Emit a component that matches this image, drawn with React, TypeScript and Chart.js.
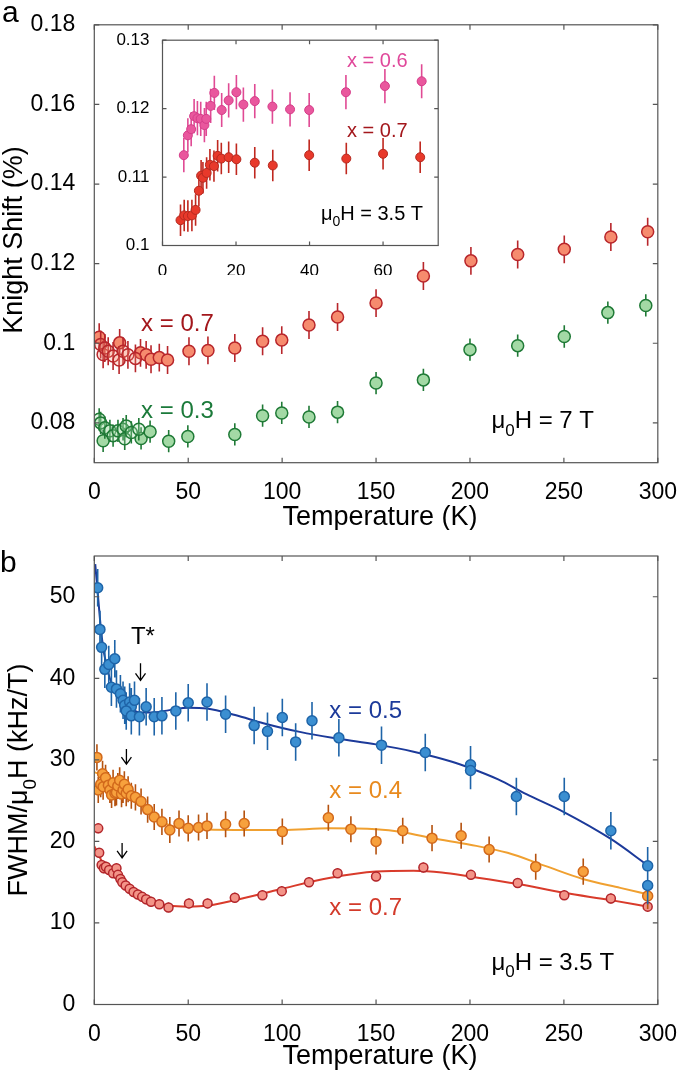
import React, { useEffect, useRef } from 'react';
import { Chart, registerables } from 'chart.js';
Chart.register(...registerables);

const FONT = '"Liberation Sans", Arial, Helvetica, sans-serif';

// ---------- Panel a: Knight shift, 7 T ----------
const tempA07 = [2.6, 13.5, 24.6, 27.6, 30.2, 34.6, 39, 50.4, 60.5, 74.8, 89.6, 99.8, 114.3, 129.5, 150, 175.2, 200.5, 225.4, 250.2, 275, 294.6];
const ksA07 = [0.1015, 0.1001, 0.0976, 0.0971, 0.096, 0.0964, 0.0958, 0.098, 0.0982, 0.0988, 0.1005, 0.1008, 0.1046, 0.1066, 0.1101, 0.1169, 0.1207, 0.1223, 0.1236, 0.1267, 0.128];
const tempA07open = [3.4, 4.7, 5.6, 7.4, 10, 13.2, 15.3, 17.9, 21.9];
const ksA07open = [0.0997, 0.0972, 0.0988, 0.098, 0.0968, 0.0958, 0.098, 0.0971, 0.0962];
const tempA03 = [4.7, 24.9, 29.7, 39.6, 49.8, 74.8, 89.6, 99.8, 114.3, 129.5, 150, 175.2, 200, 225.4, 250.2, 273.4, 293.6];
const ksA03 = [0.0755, 0.0761, 0.0778, 0.0754, 0.0766, 0.0771, 0.0818, 0.0825, 0.0815, 0.0827, 0.09, 0.0908, 0.0984, 0.0994, 0.1017, 0.1077, 0.1095];
const tempA03open = [2.6, 3.4, 5.6, 8.3, 10, 12.6, 15.3, 16.2, 17, 19.7, 23.7];
const ksA03open = [0.0809, 0.08, 0.0788, 0.078, 0.0768, 0.078, 0.0784, 0.076, 0.0792, 0.0776, 0.0784];
const errA07 = 0.0035;
const errA03 = 0.0028;
const xTicks = [0, 50, 100, 150, 200, 250, 300];
const yTicksA = [0.08, 0.1, 0.12, 0.14, 0.16, 0.18];

// ---------- Inset: Knight shift, 3.5 T ----------
const tempIn06 = [5.8, 6.9, 7.8, 8.6, 9.5, 10.4, 11.4, 11.9, 13.1, 14.1, 16.1, 18, 20.1, 22, 25.1, 29.9, 34.7, 39.9, 49.9, 60.5, 70.5];
const ksIn06 = [0.1132, 0.1161, 0.117, 0.1189, 0.1186, 0.1185, 0.1176, 0.1185, 0.1204, 0.1223, 0.1198, 0.1212, 0.1224, 0.1206, 0.1211, 0.1203, 0.1199, 0.1198, 0.1224, 0.1233, 0.124];
const tempIn07 = [4.9, 5.9, 6.9, 8.0, 9.0, 9.9, 10.5, 11.0, 12.0, 12.9, 14.0, 15.0, 16.0, 18.0, 20.1, 25.1, 30, 39.9, 50, 60, 70.1];
const ksIn07 = [0.1037, 0.1044, 0.1043, 0.1044, 0.1052, 0.108, 0.1102, 0.1099, 0.1106, 0.1118, 0.1116, 0.1131, 0.1127, 0.1129, 0.1126, 0.1121, 0.1117, 0.1132, 0.1127, 0.1134, 0.1129];
const errIn06 = 0.0025;
const errIn07 = 0.0023;
const xTicksIn = [0, 20, 40, 60];
const yTicksIn = [0.1, 0.11, 0.12, 0.13];

// ---------- Panel b: FWHM ----------
const tempB05 = [1.8, 3.0, 3.9, 5.6, 7.7, 10.9, 9.1, 11.8, 13.9, 15.3, 16.2, 18.8, 19.7, 21.4, 17, 19.7, 24, 27.6, 31.9, 36, 43.4, 50, 60, 69.9, 85.1, 92.2, 100.1, 107.2, 115.9, 130.2, 152.9, 176.2, 200.3, 200.3, 224.7, 250.2, 275, 294.6, 294.6];
const fwB05 = [51.1, 46.0, 43.8, 41.1, 41.7, 42.4, 38.9, 38.7, 38.1, 37.3, 36.7, 37.1, 36.5, 37.3, 36.0, 35.4, 35.3, 36.5, 35.3, 35.4, 36.0, 37.0, 37.1, 35.6, 34.2, 33.5, 35.2, 32.2, 34.8, 32.7, 31.8, 30.9, 29.4, 28.7, 25.5, 25.5, 21.3, 17.0, 14.6];
const fitTB05 = [0.5, 2, 4, 7, 10, 15, 20, 25, 30, 40, 50, 60, 75, 90, 110, 130, 150, 170, 190, 200, 215, 230, 250, 275, 295];
const fitB05 = [54, 50, 45, 41, 39, 37.2, 36.2, 35.8, 35.8, 36.1, 36.4, 36.3, 35.5, 34.5, 33.4, 32.6, 31.9, 31.0, 29.8, 29.0, 27.6, 25.8, 23.6, 20.3, 17.0];

const tempB04 = [1.4, 2.1, 3.4, 4.4, 4.7, 6, 7.5, 8.3, 9.2, 10, 11, 11.8, 12.5, 13.5, 14.5, 15.3, 16, 17, 18, 19.7, 21.9, 24.9, 28.4, 31.9, 36, 40.2, 45.1, 50, 55.5, 60, 69.9, 79.8, 100.1, 124.6, 136.6, 150, 164.2, 179.8, 195.3, 210.2, 235, 260.3, 294.6];
const fwB04 = [30.3, 26.3, 27.0, 28.3, 26.7, 27.8, 26.9, 26.3, 25.7, 27.2, 25.9, 26.0, 26.8, 27.5, 25.8, 26.3, 27.0, 25.9, 26.4, 25.6, 25.4, 24.9, 23.9, 23.0, 22.4, 21.4, 22.2, 21.6, 21.7, 21.9, 22.1, 22.2, 21.2, 22.9, 21.5, 20.0, 21.3, 20.4, 20.7, 19.0, 16.9, 16.3, 13.3];
const fitTB04 = [0, 10, 20, 30, 40, 50, 75, 100, 125, 150, 165, 180, 200, 220, 240, 260, 280, 295];
const fitB04 = [28.5, 27.5, 25.5, 23.3, 22.0, 21.6, 21.4, 21.4, 21.6, 21.5, 21.1, 20.4, 19.6, 18.6, 17.0, 15.4, 14.3, 13.5];

const tempB07 = [2.1, 2.6, 3.9, 5.1, 6.2, 7.9, 10, 11.8, 12.6, 13.9, 14.9, 16.7, 18.8, 20.9, 23.2, 25.5, 27.6, 30.2, 34.6, 39.5, 50.4, 60.3, 74.8, 89.5, 99.8, 114.3, 129.5, 150, 175.2, 200.5, 225.4, 250.2, 275, 294.6];
const fwB07 = [21.6, 18.6, 17.1, 16.7, 16.9, 16.5, 16.1, 16.7, 15.9, 15.4, 15.0, 14.6, 14.2, 13.8, 13.5, 13.2, 12.9, 12.6, 12.3, 11.9, 12.4, 12.4, 13.1, 13.4, 13.9, 15.0, 16.1, 15.7, 16.8, 15.9, 14.9, 13.4, 13.0, 12.0];
const fitTB07 = [0, 5, 10, 20, 30, 40, 50, 60, 75, 100, 125, 150, 170, 185, 200, 225, 250, 275, 295];
const fitB07 = [19.4, 17.2, 16.0, 14.0, 12.7, 12.1, 12.0, 12.1, 12.8, 14.2, 15.5, 16.3, 16.4, 16.2, 15.7, 14.8, 13.7, 12.8, 12.0];
const errB05 = 2.3;
const errB04 = 1.6;
const errB07 = 0.6;
const yTicksB = [0, 10, 20, 30, 40, 50];

// ---------- helpers ----------
type Part = [string, boolean];
function rich(s: string): Part[] {
  const out: Part[] = [];
  let buf = '';
  for (let i = 0; i < s.length; i++) {
    if (s[i] === '_' && i + 1 < s.length) {
      if (buf) out.push([buf, false]);
      buf = '';
      out.push([s[i + 1], true]);
      i++;
    } else buf += s[i];
  }
  if (buf) out.push([buf, false]);
  return out;
}

function drawRich(ctx: CanvasRenderingContext2D, parts: Part[], x: number, y: number, size: number, color: string, align: string) {
  const subSize = Math.round(size * 0.72);
  let total = 0;
  const widths = parts.map(([t, sub]) => {
    ctx.font = `${sub ? subSize : size}px ${FONT}`;
    const w = ctx.measureText(t).width;
    total += w;
    return w;
  });
  let sx = align === 'center' ? x - total / 2 : align === 'right' ? x - total : x;
  ctx.fillStyle = color;
  ctx.textBaseline = 'middle';
  ctx.textAlign = 'left';
  parts.forEach(([t, sub], i) => {
    ctx.font = `${sub ? subSize : size}px ${FONT}`;
    ctx.fillText(t, sx, sub ? y + size * 0.4 : y);
    sx += widths[i];
  });
}

const framePlugin = {
  id: 'frame',
  afterDatasetsDraw(chart: any, _args: any, opts: any) {
    const { ctx, chartArea: a, scales } = chart;
    const L = opts.len ?? 5;
    ctx.save();
    ctx.strokeStyle = opts.color || '#555';
    ctx.lineWidth = 1.2;
    ctx.strokeRect(a.left, a.top, a.right - a.left, a.bottom - a.top);
    ctx.beginPath();
    scales.x.ticks.forEach((t: any) => {
      const px = scales.x.getPixelForValue(t.value);
      ctx.moveTo(px, a.bottom); ctx.lineTo(px, a.bottom - L);
      ctx.moveTo(px, a.top); ctx.lineTo(px, a.top + L);
    });
    scales.y.ticks.forEach((t: any) => {
      const py = scales.y.getPixelForValue(t.value);
      ctx.moveTo(a.left, py); ctx.lineTo(a.left + L, py);
      ctx.moveTo(a.right, py); ctx.lineTo(a.right - L, py);
    });
    ctx.stroke();
    ctx.restore();
  },
};

const errorBarPlugin = {
  id: 'errbars',
  beforeDatasetDraw(chart: any, args: any) {
    const ds = chart.data.datasets[args.index];
    if (!ds.yErr) return;
    const { ctx, scales } = chart;
    ctx.save();
    ctx.strokeStyle = ds.errColor;
    ctx.lineWidth = ds.errWidth || 1.5;
    ctx.beginPath();
    ds.data.forEach((p: any) => {
      const px = scales.x.getPixelForValue(p.x);
      ctx.moveTo(px, scales.y.getPixelForValue(p.y - ds.yErr));
      ctx.lineTo(px, scales.y.getPixelForValue(p.y + ds.yErr));
    });
    ctx.stroke();
    ctx.restore();
  },
};

const textPlugin = {
  id: 'texts',
  afterDraw(chart: any, _args: any, opts: any) {
    const { ctx, scales } = chart;
    (opts.items || []).forEach((it: any) => {
      let x = it.x, y = it.y;
      if (it.data) { x = scales.x.getPixelForValue(it.x); y = scales.y.getPixelForValue(it.y); }
      ctx.save();
      if (it.arrow) {
        const h = it.len / 2;
        ctx.strokeStyle = '#000';
        ctx.lineWidth = 1.3;
        ctx.beginPath();
        ctx.moveTo(x, y - h); ctx.lineTo(x, y + h);
        ctx.moveTo(x - 5, y + h - 7); ctx.lineTo(x, y + h); ctx.lineTo(x + 5, y + h - 7);
        ctx.stroke();
      } else if (it.rotate) {
        ctx.translate(x, y);
        ctx.rotate(-Math.PI / 2);
        drawRich(ctx, rich(it.text), 0, 0, it.size, it.color || '#000', it.align || 'center');
      } else {
        drawRich(ctx, rich(it.text), x, y, it.size, it.color || '#000', it.align || 'left');
      }
      ctx.restore();
    });
  },
};

const bgPlugin = {
  id: 'bgfill',
  beforeDraw(chart: any) {
    const { ctx, chartArea: a } = chart;
    ctx.save();
    ctx.fillStyle = '#fff';
    ctx.fillRect(a.left, a.top, a.right - a.left, a.bottom - a.top);
    ctx.restore();
  },
};

function pts(T: number[], Y: number[]) {
  return T.map((t, i) => ({ x: t, y: Y[i] }));
}

function scatterDs(T: number[], Y: number[], r: number, fill: string, border: string, err: number, errColor: string, bw = 1.5) {
  return {
    type: 'scatter', data: pts(T, Y), pointRadius: r, pointHoverRadius: r,
    backgroundColor: fill, borderColor: border, borderWidth: bw, showLine: false,
    yErr: err, errColor, errWidth: 1.6, order: 1,
  };
}

function lineDs(T: number[], Y: number[], color: string) {
  return {
    type: 'line', data: pts(T, Y), showLine: true, pointRadius: 0, borderColor: color,
    borderWidth: 2, fill: false, cubicInterpolationMode: 'monotone', order: 10,
  };
}

function axes(xMin: number, xMax: number, xT: number[], yMin: number, yMax: number, yT: number[], yW: number, xH: number, fs: number, yPad: number, xPad: number) {
  return {
    x: {
      type: 'linear', min: xMin, max: xMax,
      grid: { display: false }, border: { display: false },
      afterBuildTicks: (s: any) => { s.ticks = xT.map((v) => ({ value: v })); },
      afterFit: (s: any) => { s.height = xH; },
      ticks: { color: '#000', font: { family: FONT, size: fs }, padding: xPad, autoSkip: false, maxRotation: 0, callback: (v: any) => String(v) },
    },
    y: {
      type: 'linear', min: yMin, max: yMax,
      grid: { display: false }, border: { display: false },
      afterBuildTicks: (s: any) => { s.ticks = yT.map((v) => ({ value: v })); },
      afterFit: (s: any) => { s.width = yW; },
      ticks: { color: '#000', font: { family: FONT, size: fs }, padding: yPad, autoSkip: false, callback: (v: any) => String(v) },
    },
  };
}

function baseOptions(scales: any, padding: any, frameLen: number, items: any[]) {
  return {
    responsive: false, animation: false, events: [],
    layout: { padding, autoPadding: false },
    scales,
    plugins: {
      legend: { display: false }, tooltip: { enabled: false },
      frame: { len: frameLen, color: '#555' },
      texts: { items },
    },
  };
}

function useChart(ref: React.RefObject<HTMLCanvasElement>, make: () => any) {
  useEffect(() => {
    if (!ref.current) return;
    const ch = new Chart(ref.current, make());
    return () => ch.destroy();
  }, []);
}

export default function App() {
  const refA = useRef<HTMLCanvasElement>(null);
  const refIn = useRef<HTMLCanvasElement>(null);
  const refB = useRef<HTMLCanvasElement>(null);

  useChart(refA, () => ({
    type: 'scatter',
    data: {
      datasets: [
        scatterDs(tempA07open, ksA07open, 6, 'rgba(246,139,110,0.25)', '#b8262b', errA07, '#b8262b'),
        scatterDs(tempA07, ksA07, 6, '#f68b6e', '#b8262b', errA07, '#b8262b'),
        scatterDs(tempA03open, ksA03open, 6, 'rgba(163,217,165,0.3)', '#1f7a36', errA03, '#1f7a36'),
        scatterDs(tempA03, ksA03, 6, '#a3d9a5', '#1f7a36', errA03, '#1f7a36'),
      ],
    },
    options: baseOptions(
      axes(0, 300, xTicks, 0.07, 0.18, yTicksA, 94.3, 67.3, 23, 11, 8),
      { top: 16, right: 19.7, left: 0, bottom: 0 }, 5,
      [
        { text: 'a', x: 2, y: 14, size: 30 },
        { text: 'Knight Shift (%)', x: 15, y: 240, size: 27, rotate: true },
        { text: 'Temperature (K)', x: 380, y: 518, size: 27, align: 'center' },
        { text: 'x = 0.7', x: 24.9, y: 0.1047, data: true, size: 24, color: '#a3171c' },
        { text: 'x = 0.3', x: 24.9, y: 0.0828, data: true, size: 24, color: '#1b7a3a' },
        { text: 'μ_0H = 7 T', x: 211.4, y: 0.0804, data: true, size: 24 },
      ]),
    plugins: [errorBarPlugin, framePlugin, textPlugin],
  }));

  useChart(refIn, () => ({
    type: 'scatter',
    data: {
      datasets: [
        scatterDs(tempIn06, ksIn06, 4.5, '#e9579d', '#d63d8a', errIn06, '#e04a94', 1),
        scatterDs(tempIn07, ksIn07, 4.5, '#e8392b', '#b52a20', errIn07, '#c0281f', 1),
      ],
    },
    options: baseOptions(
      axes(0, 75, xTicksIn, 0.1, 0.13, yTicksIn, 62.5, 29.5, 17, 5, 8),
      { top: 13.3, right: 11.8, left: 0, bottom: 0 }, 4,
      [
        { text: 'x = 0.6', x: 50.2, y: 0.1269, data: true, size: 20, color: '#e0479a' },
        { text: 'x = 0.7', x: 50.2, y: 0.1166, data: true, size: 20, color: '#a3171c' },
        { text: 'μ_0H = 3.5 T', x: 43.1, y: 0.1046, data: true, size: 20 },
      ]),
    plugins: [bgPlugin, errorBarPlugin, framePlugin, textPlugin],
  }));

  useChart(refB, () => ({
    type: 'scatter',
    data: {
      datasets: [
        lineDs(fitTB05, fitB05, '#1c3a9a'),
        lineDs(fitTB04, fitB04, '#f0a030'),
        lineDs(fitTB07, fitB07, '#d93b2b'),
        scatterDs(tempB05, fwB05, 5, '#3b8fd1', '#1e64a8', errB05, '#1e64a8'),
        scatterDs(tempB04, fwB04, 5, '#f7a13d', '#d2691b', errB04, '#b5520f'),
        scatterDs(tempB07, fwB07, 4.5, '#f39488', '#b3262b', errB07, '#b3262b'),
      ],
    },
    options: baseOptions(
      axes(0, 300, xTicks, 0, 55, yTicksB, 94.3, 68.5, 23, 11, 8),
      { top: 26, right: 19.7, left: 0, bottom: 0 }, 5,
      [
        { text: 'b', x: 0, y: 34, size: 30 },
        { text: 'FWHM/μ_0H (kHz/T)', x: 20, y: 250, size: 27, rotate: true },
        { text: 'Temperature (K)', x: 380, y: 527, size: 27, align: 'center' },
        { text: 'x = 0.5', x: 125.1, y: 36.0, data: true, size: 24, color: '#1c3a9a' },
        { text: 'x = 0.4', x: 125.1, y: 26.1, data: true, size: 24, color: '#e88a1e' },
        { text: 'x = 0.7', x: 125.1, y: 11.8, data: true, size: 24, color: '#d33a2a' },
        { text: 'μ_0H = 3.5 T', x: 211.4, y: 5.1, data: true, size: 24 },
        { text: 'T*', x: 25.9, y: 45.0, data: true, size: 24, align: 'center' },
        { arrow: true, x: 24.6, y: 40.8, data: true, len: 17 },
        { arrow: true, x: 17.1, y: 30.4, data: true, len: 15 },
        { arrow: true, x: 14.8, y: 18.9, data: true, len: 15 },
      ]),
    plugins: [errorBarPlugin, framePlugin, textPlugin],
  }));

  return (
    <div style={{ position: 'absolute', left: 0, top: 0, width: 685, height: 1073, background: '#fff' }}>
      <canvas ref={refA} width={685} height={530} style={{ position: 'absolute', left: 0, top: 0 }} />
      <canvas ref={refIn} width={350} height={250} style={{ position: 'absolute', left: 100, top: 25 }} />
      <canvas ref={refB} width={685} height={543} style={{ position: 'absolute', left: 0, top: 530 }} />
    </div>
  );
}
